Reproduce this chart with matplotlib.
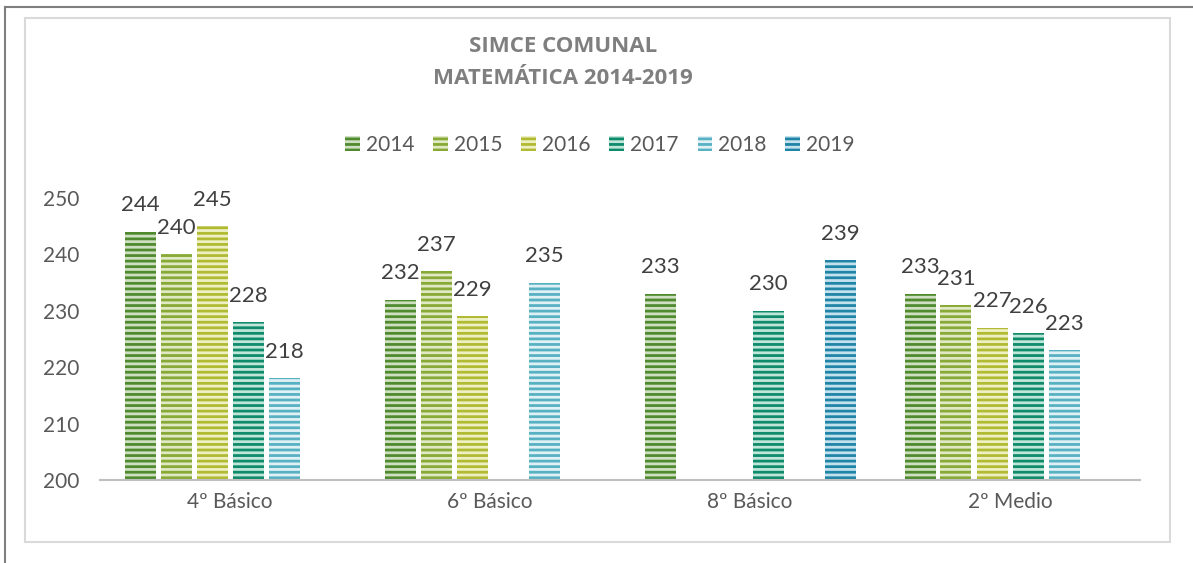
import matplotlib.pyplot as plt
import numpy as np
from matplotlib.patches import Rectangle, Patch
from matplotlib.lines import Line2D

# Datos
niveles = ["4º Básico", "6º Básico", "8º Básico", "2º Medio"]
anios = ["2014", "2015", "2016", "2017", "2018", "2019"]
v2014 = [244, 232, 233, 233]
v2015 = [240, 237, None, 231]
v2016 = [245, 229, None, 227]
v2017 = [228, None, 230, 226]
v2018 = [218, 235, None, 223]
v2019 = [None, None, 239, None]
series = [v2014, v2015, v2016, v2017, v2018, v2019]

colores = ["#4f8a2e", "#87a935", "#b0ba33", "#0f8a6a", "#58b1c3", "#1f84a6"]
rayas = ["#cfe0c2", "#e0e8c4", "#eef0c4", "#bfe6d9", "#dff1f5", "#c4e2ee"]

plt.rcParams['font.family'] = ['Lato', 'DejaVu Sans']
plt.rcParams['hatch.linewidth'] = 2.0

fig = plt.figure(figsize=(11.93, 5.63), dpi=100)
ax = fig.add_axes([100/1193, 1-480/563, 1040/1193, 282/563])

x = np.arange(len(niveles))
paso = 36/260
ancho = 31/260
for i, (vals, c, r, a) in enumerate(zip(series, colores, rayas, anios)):
    off = (i - 2.5) * paso
    for j, v in enumerate(vals):
        if v is None:
            continue
        ax.bar(x[j] + off, v - 200, width=ancho, bottom=200, color=c,
               edgecolor=r, linewidth=0, hatch='---')
        ax.annotate(str(v), (x[j] + off, v), xytext=(0, 19),
                    textcoords='offset points', ha='center', va='center',
                    fontsize=16, color='#404040', annotation_clip=False)

ax.set_xlim(-0.5, 3.5)
ax.set_ylim(200, 250)
ax.set_xticks(x)
ax.set_xticklabels(niveles, fontsize=15, color='#595959')
ax.set_yticks(range(200, 251, 10))
ax.tick_params(axis='y', length=0, labelsize=15, labelcolor='#595959', pad=41)
ax.tick_params(axis='x', length=0, pad=9)
for s in ['top', 'right', 'left']:
    ax.spines[s].set_visible(False)
ax.spines['bottom'].set_color('#bfbfbf')
ax.spines['bottom'].set_linewidth(1.5)
for lbl in ax.get_yticklabels():
    lbl.set_horizontalalignment('left')

# Leyenda
handles = [Patch(facecolor=c, edgecolor=r, linewidth=0, hatch='---')
           for c, r in zip(colores, rayas)]
fig.legend(handles, anios, loc='center', bbox_to_anchor=(600/1193, 1-145/563),
           ncol=6, frameon=False, fontsize=15, handlelength=0.7, handleheight=0.7,
           columnspacing=0.9, handletextpad=0.3, labelcolor='#595959')

# Titulo
fig.text(563/1193, 1-47/563, "SIMCE COMUNAL", ha='center', va='center',
         fontsize=16, fontweight='bold', color='#7f7f7f', family='Open Sans')
fig.text(563/1193, 1-78/563, "MATEMÁTICA 2014-2019", ha='center', va='center',
         fontsize=16, fontweight='bold', color='#7f7f7f', family='Open Sans')

# Bordes
fig.add_artist(Rectangle((25/1193, 1-542/563), 1145/1193, 524/563,
                         transform=fig.transFigure, fill=False,
                         edgecolor='#d9d9d9', linewidth=1.5))
fig.add_artist(Line2D([5/1193, 5/1193], [0, 1-7/563], transform=fig.transFigure,
                      color='#7f7f7f', linewidth=1.5))
fig.add_artist(Line2D([5/1193, 1], [1-7/563, 1-7/563], transform=fig.transFigure,
                      color='#7f7f7f', linewidth=1.5))

fig.savefig('out.png', dpi=100)
